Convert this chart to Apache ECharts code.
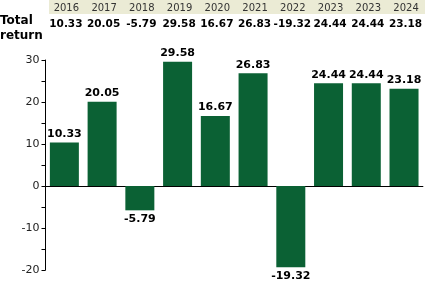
<!DOCTYPE html>
<html><head><meta charset="utf-8">
<script src="https://cdn.jsdelivr.net/npm/echarts@6/dist/echarts.min.js"></script>
<style>html,body{margin:0;padding:0;background:#fff}#c{width:425px;height:288px}</style>
</head><body><div id="c"></div>
<script>
var years = ['2016','2017','2018','2019','2020','2021','2022','2023','2023','2024'];
var returns = [10.33, 20.05, -5.79, 29.58, 16.67, 26.83, -19.32, 24.44, 24.44, 23.18];
var yTicks = {min: -20, max: 30, interval: 10};

var chart = echarts.init(document.getElementById('c'), null, {renderer: 'canvas'});
var font = 'DejaVu Sans';
var barData = returns.map(function (v) {
  return {value: v, label: {position: v < 0 ? 'bottom' : 'top'}};
});
chart.setOption({
  animation: false,
  grid: {left: 45.5, right: -0.5, top: 60, bottom: 18, containLabel: false},
  graphic: [
    {type: 'rect', shape: {x: 49, y: 0, width: 376, height: 14}, style: {fill: '#ebebd5'}, z: -1},
    {type: 'text', left: 0, top: 13, style: {text: 'Total\nreturn', font: 'bold 12px DejaVu Sans', fill: '#000', lineHeight: 15}}
  ],
  xAxis: [
    {type: 'category', data: years, position: 'bottom',
     axisLine: {onZero: true, lineStyle: {color: '#000', width: 1}},
     axisTick: {show: false}, axisLabel: {show: false}},
    {type: 'category', data: years, position: 'top', gridIndex: 0,
     axisLine: {show: false}, axisTick: {show: false},
     axisLabel: {interval: 0, hideOverlap: false, margin: 47, padding: [0, 0, 0, 4], fontFamily: font, fontSize: 10, color: '#333'}},
    {type: 'category', data: returns.map(function (v) { return v.toFixed(2); }), position: 'top', gridIndex: 0,
     axisLine: {show: false}, axisTick: {show: false},
     axisLabel: {interval: 0, hideOverlap: false, margin: 30, padding: [0, 0, 0, 3], fontFamily: font, fontSize: 10.5, fontWeight: 'bold', color: '#000'}}
  ],
  yAxis: {
    type: 'value', min: yTicks.min, max: yTicks.max, interval: yTicks.interval,
    axisLine: {show: true, lineStyle: {color: '#000'}},
    axisTick: {show: true, length: 4, lineStyle: {color: '#000'}},
    minorTick: {show: true, splitNumber: 2, length: 4, lineStyle: {color: '#000'}},
    splitLine: {show: false},
    axisLabel: {margin: 6, fontFamily: font, fontSize: 11, color: '#222'}
  },
  series: [{
    type: 'bar', data: barData, barWidth: 29, xAxisIndex: 0,
    itemStyle: {color: '#0b6134'},
    label: {show: true, distance: 3, fontFamily: font, fontSize: 11, fontWeight: 'bold', color: '#000',
            formatter: function (p) { return p.value.toFixed(2); }}
  }]
});
</script></body></html>
